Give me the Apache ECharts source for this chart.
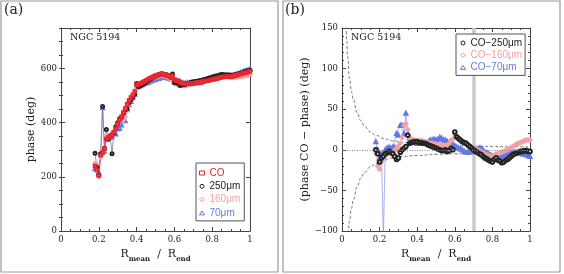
<!DOCTYPE html>
<html><head><meta charset="utf-8">
<script src="https://cdn.jsdelivr.net/npm/echarts@6/dist/echarts.min.js"></script>
<style>html,body{margin:0;padding:0;background:#fff}#c{width:564px;height:274px}</style>
</head><body><div id="c"></div>
<script>
// ---------------- data ----------------
const radius = [0.18,0.19,0.20,0.21,0.22,0.23,0.24,0.25,0.26,0.27,0.28,0.29,0.30,0.31,0.32,0.33,0.34,0.35,0.36,0.37,0.38,0.39,0.40,0.41,0.42,0.43,0.44,0.45,0.46,0.47,0.48,0.49,0.50,0.51,0.52,0.53,0.54,0.55,0.56,0.57,0.58,0.59,0.60,0.61,0.62,0.63,0.64,0.65,0.66,0.67,0.68,0.69,0.70,0.71,0.72,0.73,0.74,0.75,0.76,0.77,0.78,0.79,0.80,0.81,0.82,0.83,0.84,0.85,0.86,0.87,0.88,0.89,0.90,0.91,0.92,0.93,0.94,0.95,0.96,0.97,0.98,0.99,1.00];

const phaseCO = [240,225,205,280,290,305,340,345,348,355,365,378,395,410,422,438,452,468,482,493,503,515,540,542,545,548,552,556,560,564,567,571,574,576,578,580,579,577,575,573,570,572,560,556,555,550,546,544,543,544,544,545,546,547,548,549,550,552,553,555,556,558,560,561,562,564,566,568,569,570,570,570,570,572,574,576,578,580,582,584,586,588,590];
const phase250 = [287,235,208,285,460,305,375,340,350,285,362,385,400,415,420,435,448,452,475,485,495,505,545,533,537,540,544,549,554,559,563,568,572,575,578,581,580,577,577,574,568,580,548,552,545,538,540,540,542,545,547,550,551,552,553,555,556,558,560,562,564,566,568,570,572,574,576,578,577,576,576,576,575,575,577,579,581,583,585,588,590,592,594];
const phase160 = [250,245,200,275,285,300,345,350,355,360,370,380,392,405,410,410,422,445,468,482,492,504,528,532,535,538,543,547,551,556,560,564,567,570,572,574,573,572,570,566,560,560,545,541,541,539,536,536,536,538,540,542,544,546,548,550,552,555,558,561,563,566,569,568,567,568,570,570,571,570,570,568,567,567,568,569,570,571,572,573,574,576,578];
const phase70 = [230,240,215,285,455,295,340,340,345,350,362,358,377,380,392,418,407,448,467,478,493,505,532,534,537,540,544,548,548,552,555,558,560,563,563,568,570,568,566,564,562,565,555,553,552,550,546,547,546,547,547,547,548,548,548,549,548,555,556,559,561,564,568,570,572,572,574,576,575,575,575,574,574,575,577,579,581,585,587,590,592,594,598];

const diff250 = [0,-5,-15,-10,-8,-5,-3,-2,-3,-5,-8,-12,-10,-3,0,2,4,18,8,9,10,10,10,9,9,8,8,7,6,5,4,3,2,1,0,-1,-1,0,-2,-1,2,0,22,16,14,12,10,9,8,6,4,2,0,-2,-3,-5,-6,-8,-10,-11,-13,-14,-15,-12,-10,-13,-14,-16,-15,-13,-12,-10,-8,-6,-5,-4,-3,-2,-2,-1,-1,-2,-2];
const diff160 = [-5,-20,-24,-15,-10,-8,-6,-5,-3,-2,-1,2,5,8,15,30,32,25,15,13,12,12,12,11,11,10,10,9,9,8,8,7,7,6,6,6,5,5,6,8,12,13,18,16,14,12,10,8,7,5,4,3,2,1,0,-1,-2,-3,-5,-6,-7,-8,-9,-7,-5,-5,-4,-3,-2,-1,0,1,3,4,6,7,8,9,10,11,12,12,12];
const diff70 = [10,0,-10,-5,-110,0,2,3,2,3,3,20,18,30,30,20,45,20,15,12,10,9,8,8,9,10,9,8,10,12,12,13,12,13,15,14,12,12,10,9,8,6,5,3,2,1,0,-2,-3,-3,-3,-2,-2,-1,0,2,2,0,-3,-4,-5,-7,-8,-9,-10,-9,-8,-7,-6,-5,-5,-4,-4,-3,-3,-3,-3,-4,-5,-5,-6,-7,-8];

const envX    = [0.015,0.02,0.025,0.03,0.04,0.05,0.06,0.08,0.10,0.12,0.15,0.18,0.22,0.27,0.33,0.40,0.50,0.60,0.70,0.80,0.90,1.00];
const envUp   = [220,170,135,115,88,72,62,46,36,29,22,18,14,11,9,7.5,6,5,4.5,4,3.7,3.5];
const envDown = [-220,-170,-135,-112,-88,-72,-62,-46,-35,-28,-21,-17,-13,-10,-8,-7,-5.5,-5,-4.6,-4.4,-4.2,-4];

const xTicks = [0,0.2,0.4,0.6,0.8,1];
const leftYTicks = [0,200,400,600];
const rightYTicks = [-100,-50,0,50,100,150];

// ---------------- style ----------------
const C_CO = '#e8242c', C_250 = '#222222', C_160 = '#f4a0a0', C_70 = '#6278e8';
const serif = 'DejaVu Serif';
const sans = 'Liberation Sans';

function pairs(xs, ys){ return xs.map((x,i)=>[x, ys[i]]); }

function xAxisDef(grid, pos){
  return {
    gridIndex: grid, type:'value', position: pos, min:0, max:1, interval:0.2,
    axisLine:{show:true, onZero:false, lineStyle:{color:'#444', width:1}},
    axisTick:{show:true, inside:true, length:4, lineStyle:{color:'#444'}},
    minorTick:{show:true, splitNumber:4, length:2, lineStyle:{color:'#444'}},
    splitLine:{show:false},
    axisLabel:{show: pos==='bottom', margin:4, fontFamily:serif, fontSize:8.5, color:'#222',
      formatter: v => xTicks.indexOf(Math.round(v*10)/10) >= 0 ? String(Math.round(v*10)/10) : ''},
    name: pos==='bottom' ? '{r|R}{s|mean}{r|  /  R}{s|end}' : '',
    nameLocation:'middle', nameGap:10,
    nameTextStyle:{rich:{
      r:{fontFamily:serif, fontSize:11, color:'#222', verticalAlign:'top', lineHeight:14},
      s:{fontFamily:serif, fontSize:7, color:'#222', verticalAlign:'top', padding:[7,0,0,0], lineHeight:14, fontWeight:'bold'}
    }}
  };
}

const option = {
  animation:false,
  backgroundColor:'#fff',
  grid:[
    {left:61, top:28, width:189, height:203, show:false},
    {left:342, top:28, width:188, height:203, show:false}
  ],
  xAxis:[
    xAxisDef(0,'bottom'), xAxisDef(0,'top'),
    xAxisDef(1,'bottom'), xAxisDef(1,'top')
  ],
  yAxis:[
    {gridIndex:0, type:'value', position:'left', min:0, max:750, interval:200,
     axisLine:{show:true, onZero:false, lineStyle:{color:'#444'}},
     axisTick:{show:true, inside:true, length:4, lineStyle:{color:'#444'}},
     splitLine:{show:false},
     axisLabel:{margin:4, fontFamily:serif, fontSize:8.5, color:'#222',
       formatter: v => leftYTicks.indexOf(v) >= 0 ? String(v) : ''},
     name:'phase (deg)', nameLocation:'middle', nameGap:20, nameRotate:90,
     nameTextStyle:{fontFamily:serif, fontSize:11, color:'#222'}},
    {gridIndex:0, type:'value', position:'right', min:0, max:750, interval:200,
     axisLine:{show:true, onZero:false, lineStyle:{color:'#444'}},
     axisTick:{show:true, inside:true, length:4, lineStyle:{color:'#444'}},
     splitLine:{show:false}, axisLabel:{show:false}},
    {gridIndex:0, type:'value', position:'left', min:0, max:750, interval:50,
     axisLine:{show:false}, axisTick:{show:true, inside:true, length:2, lineStyle:{color:'#444'}},
     splitLine:{show:false}, axisLabel:{show:false}},
    {gridIndex:0, type:'value', position:'right', min:0, max:750, interval:50,
     axisLine:{show:false}, axisTick:{show:true, inside:true, length:2, lineStyle:{color:'#444'}},
     splitLine:{show:false}, axisLabel:{show:false}},
    {gridIndex:1, type:'value', position:'left', min:-100, max:150, interval:50,
     axisLine:{show:true, onZero:false, lineStyle:{color:'#444'}},
     axisTick:{show:true, inside:true, length:4, lineStyle:{color:'#444'}},
     minorTick:{show:true, splitNumber:5, length:2, lineStyle:{color:'#444'}},
     splitLine:{show:false},
     axisLabel:{margin:4, fontFamily:serif, fontSize:8.5, color:'#222',
       formatter: v => rightYTicks.indexOf(v) >= 0 ? (v < 0 ? '\u2212' + Math.abs(v) : String(v)) : ''},
     name:'(phase CO \u2212 phase) (deg)', nameLocation:'middle', nameGap:21, nameRotate:90,
     nameTextStyle:{fontFamily:serif, fontSize:11, color:'#222'}},
    {gridIndex:1, type:'value', position:'right', min:-100, max:150, interval:50,
     axisLine:{show:true, onZero:false, lineStyle:{color:'#444'}},
     axisTick:{show:true, inside:true, length:4, lineStyle:{color:'#444'}},
     minorTick:{show:true, splitNumber:5, length:2, lineStyle:{color:'#444'}},
     splitLine:{show:false}, axisLabel:{show:false}}
  ],
  legend:[
    {left:196, top:163, orient:'vertical', padding:[5,4,3,3], itemGap:3.3,
     itemWidth:5, itemHeight:4, borderColor:'#555', borderWidth:1, backgroundColor:'#fff',
     lineStyle:{opacity:0}, selectedMode:false,
     textStyle:{fontFamily:sans, fontSize:10, lineHeight:10},
     data:[
       {name:'CO', icon:'rect', itemStyle:{color:'#fff', borderColor:C_CO, borderWidth:1}, textStyle:{color:C_CO}},
       {name:'250\u03bcm', icon:'circle', itemStyle:{color:'#fff', borderColor:C_250, borderWidth:1}, textStyle:{color:C_250}},
       {name:'160\u03bcm', icon:'diamond', itemStyle:{color:'#fff', borderColor:C_160, borderWidth:1}, textStyle:{color:C_160}},
       {name:'70\u03bcm', icon:'triangle', itemStyle:{color:'#fff', borderColor:C_70, borderWidth:1}, textStyle:{color:C_70}}
     ]},
    {left:456, top:34, orient:'vertical', padding:[4,3,3,4], itemGap:2.2,
     itemWidth:5, itemHeight:4, borderColor:'#555', borderWidth:1, backgroundColor:'#fff',
     lineStyle:{opacity:0}, selectedMode:false,
     textStyle:{fontFamily:sans, fontSize:10, lineHeight:10},
     data:[
       {name:'CO\u2212250\u03bcm', icon:'circle', itemStyle:{color:'#fff', borderColor:C_250, borderWidth:1}, textStyle:{color:C_250}},
       {name:'CO\u2212160\u03bcm', icon:'diamond', itemStyle:{color:'#fff', borderColor:C_160, borderWidth:1}, textStyle:{color:C_160}},
       {name:'CO\u221270\u03bcm', icon:'triangle', itemStyle:{color:'#fff', borderColor:C_70, borderWidth:1}, textStyle:{color:C_70}}
     ]}
  ],
  graphic:[
    {type:'rect', shape:{x:1, y:1, width:277, height:271}, style:{fill:null, stroke:'#999', lineWidth:1.2}, silent:true},
    {type:'rect', shape:{x:283, y:1, width:277, height:271}, style:{fill:null, stroke:'#999', lineWidth:1.2}, silent:true},
    {type:'text', left:4, top:3, style:{text:'(a)', font:'14px "DejaVu Serif"', fill:'#222'}},
    {type:'text', left:285, top:3, style:{text:'(b)', font:'14px "DejaVu Serif"', fill:'#222'}},
    {type:'text', left:70, top:33, style:{text:'NGC 5194', font:'9.5px "DejaVu Serif"', fill:'#222'}},
    {type:'text', left:351, top:33, style:{text:'NGC 5194', font:'9.5px "DejaVu Serif"', fill:'#222'}}
  ],
  series:[
    {name:'70\u03bcm', type:'line', xAxisIndex:0, yAxisIndex:0, data:pairs(radius, phase70),
     symbol:'emptyTriangle', symbolSize:3, color:C_70, lineStyle:{width:0.7, color:C_70, opacity:0.8},
     itemStyle:{color:C_70, borderWidth:0.6}},
    {name:'160\u03bcm', type:'line', xAxisIndex:0, yAxisIndex:0, data:pairs(radius, phase160),
     symbol:'emptyDiamond', symbolSize:3, color:C_160, lineStyle:{width:0.7, color:C_160, opacity:0.8},
     itemStyle:{color:C_160, borderWidth:0.6}},
    {name:'250\u03bcm', type:'line', xAxisIndex:0, yAxisIndex:0, data:pairs(radius, phase250),
     symbol:'emptyCircle', symbolSize:3, color:C_250, lineStyle:{width:0.7, color:'#7a5ca8'},
     itemStyle:{color:C_250, borderWidth:0.6}},
    {name:'CO', type:'line', xAxisIndex:0, yAxisIndex:0, data:pairs(radius, phaseCO),
     symbol:'emptyRect', symbolSize:2.6, color:C_CO, lineStyle:{width:0.7, color:C_CO, opacity:0.8},
     itemStyle:{color:C_CO, borderWidth:0.6}},
    {name:'envUp', type:'line', xAxisIndex:2, yAxisIndex:4, data:pairs(envX, envUp),
     symbol:'none', smooth:true, smoothMonotone:'x', lineStyle:{width:0.8, color:'#555', type:[3,2]},
     markLine:{silent:true, symbol:'none', label:{show:false},
       lineStyle:{type:[1,1.5], color:'#888', width:1}, data:[{yAxis:0}]},
     markArea:{silent:true, itemStyle:{color:'#c8c8c8'}, data:[[{xAxis:0.693},{xAxis:0.711}]]}},
    {name:'envDown', type:'line', xAxisIndex:2, yAxisIndex:4, data:pairs(envX, envDown),
     symbol:'none', smooth:true, smoothMonotone:'x', lineStyle:{width:0.8, color:'#555', type:[3,2]}},
    {name:'CO\u221270\u03bcm', type:'line', xAxisIndex:2, yAxisIndex:4, data:pairs(radius, diff70),
     symbol:'emptyTriangle', symbolSize:3.2, color:C_70, lineStyle:{width:0.7, color:C_70, opacity:0.8},
     itemStyle:{color:C_70, borderWidth:0.6}},
    {name:'CO\u2212160\u03bcm', type:'line', xAxisIndex:2, yAxisIndex:4, data:pairs(radius, diff160),
     symbol:'emptyDiamond', symbolSize:3.2, color:C_160, lineStyle:{width:0.7, color:C_160, opacity:0.8},
     itemStyle:{color:C_160, borderWidth:0.6}},
    {name:'CO\u2212250\u03bcm', type:'line', xAxisIndex:2, yAxisIndex:4, data:pairs(radius, diff250),
     symbol:'emptyCircle', symbolSize:3.6, color:C_250, lineStyle:{width:0.5, color:'#555', opacity:0.4},
     itemStyle:{color:C_250, borderWidth:0.7}}
  ]
};

const chart = echarts.init(document.getElementById('c'), null, {renderer:'canvas'});
chart.setOption(option);
</script>
</body></html>
